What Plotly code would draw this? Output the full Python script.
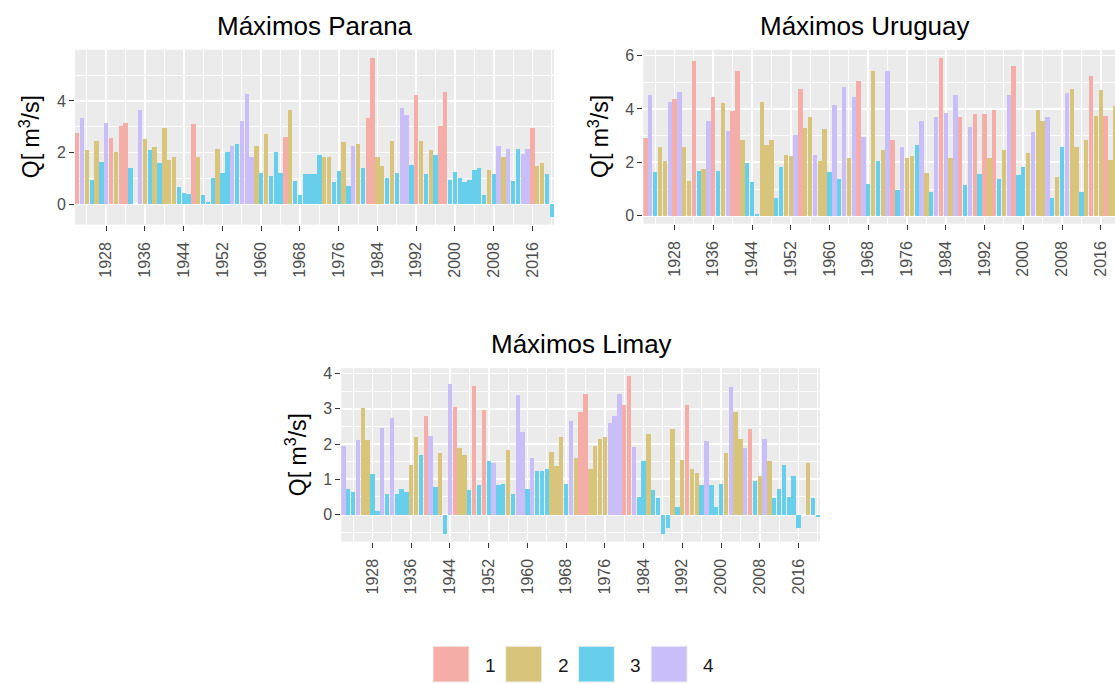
import plotly.graph_objects as go

# ---- data -------------------------------------------------------------
years = list(range(1922, 2021))

# Seasonal maxima (standardised) and the season (1-4) in which each occurred
parana_q = [2.77, 3.34, 2.09, 0.95, 2.46, 1.64, 3.16, 2.58, 2.03, 3.02,
            3.15, 1.39, None, 3.65, 2.52, 2.09, 2.21, 1.59, 2.95, 1.70,
            1.82, 0.65, 0.45, 0.39, 3.10, 1.83, 0.34, 0.08, 1.03, 2.15,
            1.21, 2.03, 2.27, 2.34, 3.23, 4.28, 1.83, 2.27, 1.21, 2.72,
            1.08, 2.03, 1.21, 2.59, 3.65, 0.89, 0.34, 1.15, 1.15, 1.15,
            1.90, 1.83, 1.83, 0.84, 1.28, 2.41, 0.71, 2.27, 2.34, 1.39,
            3.34, 5.68, 1.83, 1.46, 1.02, 2.46, 1.21, 3.72, 3.47, 1.52,
            4.22, 2.46, 1.15, 2.09, 1.90, 3.03, 4.35, 0.95, 1.26, 1.02,
            0.84, 0.95, 1.33, 1.39, 0.34, 1.33, 1.15, 2.27, 1.83, 2.14,
            0.89, 2.14, 1.96, 2.14, 2.95, 1.46, 1.59, 1.15, -0.49]
parana_season = [1, 4, 2, 3, 2, 3, 4, 1, 2, 1,
                 1, 3, 3, 4, 2, 3, 2, 3, 2, 2,
                 2, 3, 3, 3, 1, 2, 3, 3, 3, 2,
                 3, 3, 4, 3, 4, 4, 4, 2, 3, 2,
                 3, 3, 3, 1, 2, 3, 3, 3, 3, 3,
                 3, 2, 2, 3, 3, 2, 3, 4, 2, 3,
                 1, 1, 2, 2, 3, 2, 3, 4, 4, 3,
                 1, 2, 3, 2, 3, 1, 1, 3, 3, 3,
                 3, 3, 3, 3, 3, 2, 3, 4, 2, 4,
                 3, 3, 4, 4, 1, 2, 2, 3, 3]

uruguay_q = [2.90, 4.52, 1.63, 2.59, 2.04, 4.27, 4.39, 4.64, 2.59, 1.32,
             5.78, 1.68, 1.75, 3.55, 4.46, 1.68, 4.22, 3.19, 3.91, 5.42,
             2.83, 1.99, 1.26, 0.07, 4.27, 2.65, 2.83, 0.67, 1.81, 2.29,
             2.23, 3.01, 4.75, 3.30, 3.68, 2.29, 2.04, 3.25, 1.63, 4.16,
             1.39, 4.81, 2.17, 4.46, 5.06, 2.95, 1.20, 5.42, 2.04, 2.48,
             5.42, 2.83, 0.97, 2.59, 2.17, 2.23, 2.65, 3.55, 1.62, 0.90,
             3.68, 5.92, 3.85, 2.17, 4.52, 3.68, 1.15, 3.32, 3.80, 1.57,
             3.80, 2.17, 3.97, 1.39, 2.48, 4.52, 5.61, 1.51, 1.81, 2.35,
             3.13, 3.97, 3.55, 3.68, 0.67, 1.45, 2.59, 4.58, 4.75, 2.59,
             0.90, 2.83, 5.24, 3.74, 4.70, 3.74, 2.10, 4.10, None]
uruguay_season = [1, 4, 3, 2, 2, 4, 1, 4, 2, 2,
                  1, 3, 2, 4, 1, 3, 2, 4, 1, 1,
                  2, 3, 3, 3, 2, 2, 2, 3, 3, 2,
                  2, 4, 1, 2, 2, 4, 2, 2, 3, 4,
                  3, 4, 2, 4, 1, 4, 3, 2, 3, 2,
                  4, 1, 3, 4, 2, 2, 3, 4, 2, 3,
                  4, 1, 4, 2, 4, 1, 3, 4, 1, 3,
                  1, 2, 1, 3, 2, 4, 1, 3, 3, 2,
                  4, 2, 2, 4, 3, 2, 3, 4, 2, 2,
                  3, 2, 1, 2, 2, 1, 2, 2, 2]

limay_q = [1.96, 0.73, 0.64, 2.11, 3.01, 2.11, 1.15, 0.09, 2.47, 0.59,
           2.74, 0.59, 0.73, 0.64, 1.42, 2.20, 1.69, 2.79, 2.24, 0.78,
           1.74, -0.54, 3.70, 3.06, 1.88, 1.69, 0.69, 3.65, 0.83, 2.97,
           1.51, 1.46, 0.83, 0.87, 1.83, 0.59, 3.38, 2.33, 0.73, 1.60,
           1.24, 1.24, 1.29, 1.78, 1.37, 2.20, 0.87, 2.65, 1.61, 2.92,
           3.43, 1.29, 1.96, 2.15, 2.20, 2.61, 2.79, 3.43, 3.11, 3.93,
           1.92, 0.51, 1.51, 2.29, 0.69, 0.46, -0.54, -0.37, 2.42, 0.23,
           1.56, 3.11, 1.29, 1.19, 0.83, 2.10, 0.83, 0.23, 0.87, 1.74,
           3.61, 2.92, 2.15, 1.88, 2.42, 0.96, 1.10, 2.15, 1.51, 0.46,
           0.73, 1.42, 0.51, 1.10, -0.39, None, 1.46, 0.46, -0.08]
limay_season = [4, 3, 3, 4, 2, 2, 3, 3, 4, 3,
                4, 3, 3, 3, 2, 2, 3, 1, 4, 3,
                2, 3, 4, 1, 2, 2, 3, 1, 3, 1,
                3, 4, 3, 3, 2, 3, 4, 4, 3, 4,
                3, 3, 3, 2, 2, 2, 3, 4, 2, 1,
                1, 2, 2, 2, 2, 4, 4, 4, 1, 1,
                4, 3, 3, 2, 3, 3, 3, 3, 2, 3,
                2, 1, 2, 2, 3, 4, 3, 3, 3, 2,
                4, 2, 2, 4, 1, 3, 2, 4, 2, 3,
                3, 3, 3, 3, 3, 3, 2, 3, 3]

seasons = [1, 2, 3, 4]
season_colors = ["#F4AEA7", "#D9C47B", "#67CFEB", "#C9BEF8"]
titles = ["Máximos Parana", "Máximos Uruguay", "Máximos Limay"]
x_ticks = list(range(1928, 2017, 8))

# ---- page geometry (pixels) ----------------------------------------------
W, H = 1115, 684
FONT = "Liberation Sans, Arial, sans-serif"


def px_x(v):
    return v / W


def px_y(v):
    return 1 - v / H


BAR_W = 0.9
x_lo, x_hi = years[0] - BAR_W / 2, years[-1] + BAR_W / 2
px_per_year = (554 - 75) / (x_hi - x_lo)

# panel boxes: left, right, top, bottom (px) and title centre;
# the Uruguay panel runs off the right edge of the page
panels = [
    dict(l=75, r=554, t=47, b=223, tc=314.5, xr=[x_lo, x_hi]),
    dict(l=643.3, r=W, t=47, b=222, tc=864.5,
         xr=[x_lo, x_lo + (W - 643.3) / px_per_year]),
    dict(l=341.3, r=820, t=367.3, b=541.7, tc=581.5, xr=[x_lo, x_hi]),
]
series = [(parana_q, parana_season, 2, 1),
          (uruguay_q, uruguay_season, 2, 1),
          (limay_q, limay_season, 1, 0.5)]

fig = go.Figure()
layout = dict(
    width=W, height=H,
    margin=dict(l=0, r=0, t=0, b=0),
    paper_bgcolor="white",
    plot_bgcolor="#EBEBEB",
    showlegend=False,
    bargap=0,
    barmode="overlay",
    font=dict(family=FONT, color="#000000"),
)
annotations = []
shapes = []

for i, (p, (q, s, dmaj, dmin)) in enumerate(zip(panels, series)):
    n = "" if i == 0 else str(i + 1)
    xa, ya = "x" + n, "y" + n
    for k, col in zip(seasons, season_colors):
        xs = [yr for yr, v, c in zip(years, q, s) if c == k and v is not None]
        ys = [v for v, c in zip(q, s) if c == k and v is not None]
        fig.add_trace(go.Bar(x=xs, y=ys, width=BAR_W, marker_color=col,
                             marker_line_width=0, xaxis=xa, yaxis=ya,
                             name=str(k), hoverinfo="skip"))

    vals = [v for v in q if v is not None]
    lo, hi = min(0, min(vals)), max(0, max(vals))
    pad = 0.05 * (hi - lo)

    layout["xaxis" + n] = dict(
        domain=[px_x(p["l"]), px_x(p["r"])], anchor=ya, range=p["xr"],
        tickmode="array", tickvals=x_ticks, ticktext=[str(t) for t in x_ticks],
        tickangle=-90, ticks="outside", ticklen=5, tickwidth=1, tickcolor="#333333",
        ticklabelstandoff=5,
        tickfont=dict(family=FONT, size=16, color="#4D4D4D"),
        showgrid=True, gridcolor="white", gridwidth=1.8, zeroline=False, showline=False,
        minor=dict(tick0=1924, dtick=8, showgrid=True, gridcolor="white", gridwidth=0.9, ticks=""),
        fixedrange=True,
    )
    layout["yaxis" + n] = dict(
        domain=[px_y(p["b"]), px_y(p["t"])], anchor=xa, range=[lo - pad, hi + pad],
        tick0=0, dtick=dmaj, ticks="outside", ticklen=5, tickwidth=1, tickcolor="#333333",
        tickfont=dict(family=FONT, size=16, color="#4D4D4D"),
        showgrid=True, gridcolor="white", gridwidth=1.8, zeroline=False, showline=False,
        minor=dict(tick0=0, dtick=dmin, showgrid=True, gridcolor="white", gridwidth=0.9, ticks=""),
        fixedrange=True,
    )

    annotations.append(dict(
        text=titles[i], x=px_x(p["tc"]), y=px_y(p["t"] - 24),
        xref="paper", yref="paper", showarrow=False, xanchor="center", yanchor="middle",
        font=dict(family=FONT, size=26, color="#000000")))
    annotations.append(dict(
        text="Q[ m<sup>3</sup>/s]", x=px_x(p["l"] - 45), y=px_y((p["t"] + p["b"]) / 2),
        xref="paper", yref="paper", showarrow=False, textangle=-90,
        xanchor="center", yanchor="middle",
        font=dict(family=FONT, size=23, color="#000000")))

# legend: one square key per season with its label
for j, (k, col) in enumerate(zip(seasons, season_colors)):
    kx = 433 + j * 72.7
    shapes.append(dict(type="rect", xref="paper", yref="paper",
                       x0=px_x(kx), x1=px_x(kx + 36), y0=px_y(683), y1=px_y(647),
                       fillcolor=col, line=dict(color="#EEEEEE", width=1)))
    annotations.append(dict(
        text=str(k), x=px_x(kx + 50), y=px_y(666), xref="paper", yref="paper",
        showarrow=False, xanchor="left", yanchor="middle",
        font=dict(family=FONT, size=19, color="#1A1A1A")))

layout["annotations"] = annotations
layout["shapes"] = shapes
fig.update_layout(**layout)

fig.write_html("out.html", config={"displayModeBar": False, "staticPlot": True})
